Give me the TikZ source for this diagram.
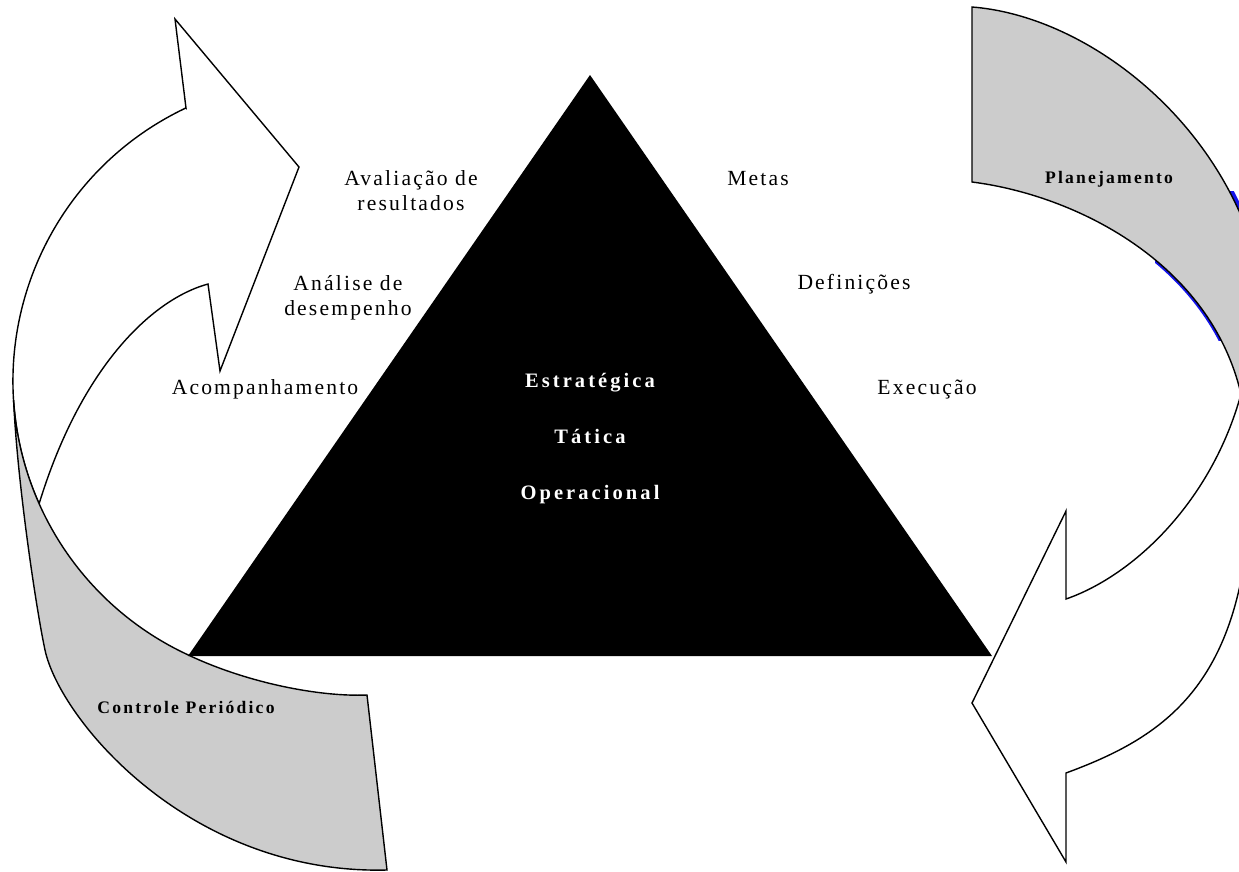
\documentclass[tikz,border=0pt]{standalone}
\usepackage{fontspec}
\setmainfont{Liberation Serif}
\newfontfamily\lblfont[LetterSpace=10]{Liberation Serif}
\newfontfamily\bandfont[LetterSpace=12.5]{Liberation Serif}
\newfontfamily\trifont[LetterSpace=15]{Liberation Serif}
\definecolor{bandgrey}{RGB}{204,204,204}
\definecolor{shadeblue}{RGB}{20,20,235}
\tikzset{
  edge/.style={draw=black, line width=1.4pt, line join=miter},
  whitearrow/.style={edge, fill=white},
  greyband/.style={edge, fill=bandgrey},
  lbl/.style={font=\fontsize{21.6}{24.5}\selectfont\lblfont, align=center, inner sep=0pt, anchor=base},
  bandlbl/.style={font=\fontsize{17.6}{20}\selectfont\bandfont\bfseries, inner sep=0pt, anchor=base},
  trilbl/.style={font=\fontsize{20.5}{22}\selectfont\trifont\bfseries, text=white, inner sep=0pt, anchor=base},
}
\begin{document}
\begin{tikzpicture}[x=1pt,y=-1pt]
\useasboundingbox (0,0) rectangle (1239,871);
\fill[white] (0,0) rectangle (1239,871);
\clip (0,0) rectangle (1239,871);

% left curved arrow (front, white)
\draw[whitearrow] (186,108) -- (175,19) -- (299,167) -- (220,371) -- (208,284)
  .. controls (150,300) and (80,370) .. (39.1,503.8)
  arc[start angle=156, end angle=244.7, radius=302] -- cycle;
% left band (back, grey)
\draw[greyband] (13.6,399.8) arc[start angle=176.4, end angle=115, radius=302]
  .. controls (247,683) and (320,697) .. (367,695) -- (387,870)
  .. controls (190,875) and (60,720) .. (45,650)
  .. controls (36,608) and (17,480) .. (13.6,399.8) -- cycle;

% right curved arrow (front, white)
\draw[whitearrow] (1066,599) -- (1066,511) -- (972,703) -- (1066,862) -- (1066,773)
  .. controls (1150,742) and (1220,700) .. (1243,570) -- (1300,570) -- (1300,394) -- (1241,394)
  .. controls (1212,500) and (1135,575) .. (1066,599) -- cycle;
% blue shading behind the right band
\begin{scope}
  \clip (1155,255) rectangle (1239,340);
  \draw[shadeblue, line width=5pt] (972,182) .. controls (1075,195) and (1210,262) .. (1241,394);
\end{scope}
\begin{scope}
  \clip (1100,191) rectangle (1239,240);
  \draw[shadeblue, line width=8pt] (972,7) .. controls (1075,15) and (1195,100) .. (1245,225);
\end{scope}
% right band (back, grey)
\draw[greyband] (972,7) -- (972,182) .. controls (1075,195) and (1210,262) .. (1241,394)
  -- (1300,394) -- (1300,225) -- (1245,225) .. controls (1195,100) and (1075,15) .. (972,7) -- cycle;

% pyramid
\fill[black] (590,75) -- (992,656) -- (188,656) -- cycle;

% labels
\node[trilbl] (est) at (590,387) {Estratégica};
\node[trilbl] (tat) at (590,443) {Tática};
\node[trilbl] (ope) at (590,499) {Operacional};

\node[lbl] (aval) at (411,210) {Avaliação de\\resultados};
\node[lbl] (anal) at (348,315) {Análise de\\desempenho};
\node[lbl] (acomp) at (265,394) {Acompanhamento};
\node[lbl] (metas) at (758,185) {Metas};
\node[lbl] (defi) at (854,289) {Definições};
\node[lbl] (exec) at (927,394) {Execução};

\node[bandlbl] (plan) at (1109,183) {Planejamento};
\node[bandlbl] (ctrl) at (186,713) {Controle Periódico};
\end{tikzpicture}
\end{document}
